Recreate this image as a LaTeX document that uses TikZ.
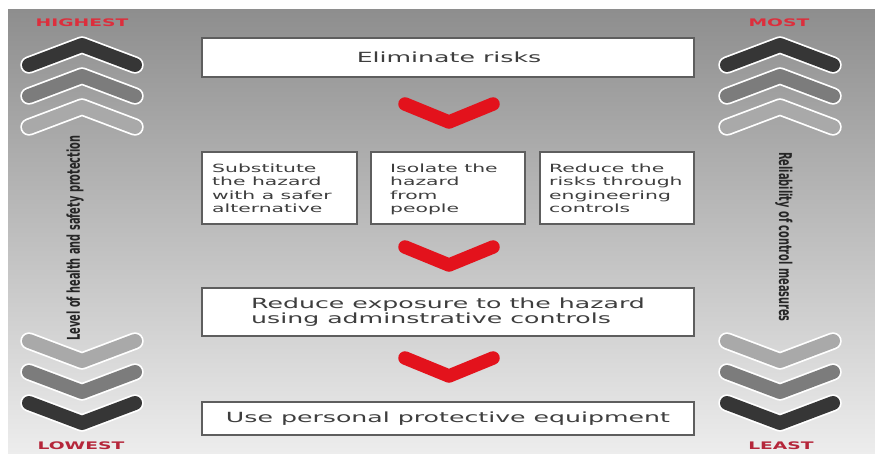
\documentclass[tikz,border=0pt]{standalone}
\usepackage{fontspec}
\setmainfont{DejaVu Sans}
\usepackage{graphicx}
\definecolor{bgtop}{HTML}{8E8E8E}
\definecolor{bgmid}{HTML}{B2B2B2}
\definecolor{bgbot}{HTML}{EDEDED}
\definecolor{chevred}{HTML}{E3121C}
\definecolor{boxline}{HTML}{5E5E5E}
\definecolor{txtgray}{HTML}{3E3E3E}
\definecolor{lblred}{HTML}{DD2E3C}
\definecolor{lblred2}{HTML}{B5263A}
\definecolor{gdark}{HTML}{363636}
\definecolor{gmid}{HTML}{7C7C7C}
\definecolor{glight}{HTML}{A9A9A9}
\newcommand\wide[1]{\scalebox{1.8}[1]{#1}}
\newcommand\tall[1]{\scalebox{1}[1.8]{#1}}
\newcommand\grchev[4]{%
  \draw[chevout] ({#1-53},#2) -- (#1,#3) -- ({#1+53},#2);
  \draw[chevin,draw=#4] ({#1-53},#2) -- (#1,#3) -- ({#1+53},#2);}
\tikzset{
  chevout/.style={draw=white, line width=17.5pt, line cap=round, line join=round},
  chevin/.style={line width=14pt, line cap=round, line join=round},
  redchev/.style={draw=chevred, line width=13.5pt, line cap=round, line join=round},
  stepbox/.style={draw=boxline, fill=white, line width=1.1pt, inner sep=0pt},
  boxtxt/.style={text=txtgray, inner sep=0pt},
  lbl/.style={inner sep=0pt, font=\bfseries\fontsize{10.4}{12}\selectfont},
  sidetxt/.style={inner sep=0pt, text=black!85, font=\bfseries\fontsize{9.8}{12}\selectfont}
}
\begin{document}
\begin{tikzpicture}[x=1pt,y=-1pt]
\useasboundingbox (0,0) rectangle (875,454);
\fill[white] (0,0) rectangle (875,454);
\shade[top color=bgtop, middle color=bgmid, bottom color=bgbot] (8,10) rectangle (875,454);

% side labels
\node[lbl, text=lblred] (hi) at (82,23) {\wide{HIGHEST}};
\node[lbl, text=lblred] (most) at (779,23) {\wide{MOST}};
\node[lbl, text=lblred2] (lo) at (81,446) {\wide{LOWEST}};
\node[lbl, text=lblred2] (least) at (781,446) {\wide{LEAST}};

% gray chevrons, left
\grchev{82}{65}{45}{gdark}
\grchev{82}{96}{76}{gmid}
\grchev{82}{127}{107}{glight}
\grchev{82}{341}{361}{glight}
\grchev{82}{372}{392}{gmid}
\grchev{82}{403}{423}{gdark}
% gray chevrons, right
\grchev{780}{65}{45}{gdark}
\grchev{780}{96}{76}{gmid}
\grchev{780}{127}{107}{glight}
\grchev{780}{341}{361}{glight}
\grchev{780}{372}{392}{gmid}
\grchev{780}{403}{423}{gdark}

% vertical texts
\node[sidetxt, rotate=90] (lvl) at (75,238) {\tall{Level of health and safety protection}};
\node[sidetxt, rotate=-90] (rel) at (784,237) {\tall{Reliability of control measures}};

% boxes
\node[stepbox, minimum width=492pt, minimum height=39pt] (b0) at (448,57.5) {};
\node[boxtxt] (t0) at (449,57) {\wide{\fontsize{14}{16}\selectfont Eliminate risks}};

\node[stepbox, minimum width=155pt, minimum height=72pt] (b1) at (279.5,188) {};
\node[stepbox, minimum width=154pt, minimum height=72pt] (b2) at (448,188) {};
\node[stepbox, minimum width=154pt, minimum height=72pt] (b3) at (617,188) {};
\node[boxtxt, anchor=west] (t1) at (212,190) {\wide{\fontsize{11.3}{13.5}\selectfont\begin{tabular}{@{}l@{}}Substitute\\the hazard\\with a safer\\alternative\end{tabular}}};
\node[boxtxt, anchor=west] (t2) at (390,190) {\wide{\fontsize{11.3}{13.5}\selectfont\begin{tabular}{@{}l@{}}Isolate the\\hazard\\from\\people\end{tabular}}};
\node[boxtxt, anchor=west] (t3) at (549,190) {\wide{\fontsize{11.3}{13.5}\selectfont\begin{tabular}{@{}l@{}}Reduce the\\risks through\\engineering\\controls\end{tabular}}};

\node[stepbox, minimum width=492pt, minimum height=48pt] (b4) at (448,312) {};
\node[boxtxt, anchor=west] (t4) at (251,313) {\wide{\fontsize{14}{15}\selectfont\begin{tabular}{@{}l@{}}Reduce exposure to the hazard\\using adminstrative controls\end{tabular}}};

\node[stepbox, minimum width=492pt, minimum height=33pt] (b5) at (448,418.5) {};
\node[boxtxt] (t5) at (448,419) {\wide{\fontsize{14}{16}\selectfont Use personal protective equipment}};

% red chevrons
\draw[redchev] (405,104) -- (449,122) -- (493,104);
\draw[redchev] (405,247) -- (449,265) -- (493,247);
\draw[redchev] (405,358) -- (449,376) -- (493,358);
\end{tikzpicture}
\end{document}
